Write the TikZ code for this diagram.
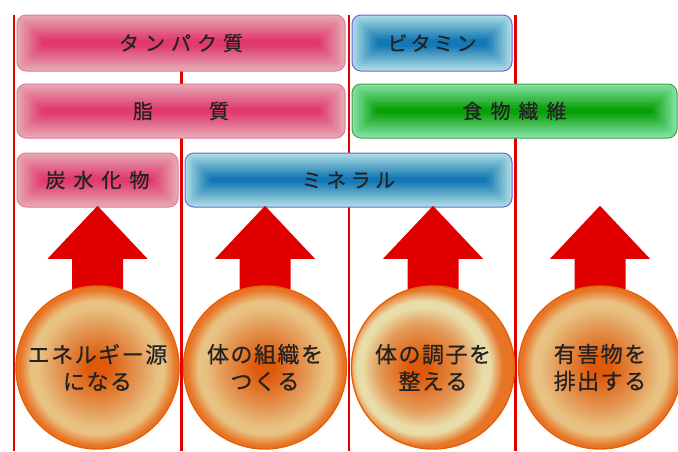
\documentclass[tikz,border=0pt]{standalone}
\usepackage{fontspec}
\newfontfamily\jp{Noto Sans CJK JP}
\newfontfamily\jpb[FakeBold=0.6]{Noto Sans CJK JP}
\usetikzlibrary{calc}
\definecolor{linered}{HTML}{E00000}
\definecolor{pinkL}{HTML}{E6A8B2}
\definecolor{pinkD}{HTML}{E03A6E}
\definecolor{pinkB}{HTML}{E47A98}
\definecolor{blueL}{HTML}{AADCE2}
\definecolor{blueD}{HTML}{1478B4}
\definecolor{blueB}{HTML}{6A64E0}
\definecolor{greenL}{HTML}{84E2A4}
\definecolor{greenD}{HTML}{0AA00A}
\definecolor{greenB}{HTML}{44A044}
\definecolor{orbA}{HTML}{DE5A0A}
\definecolor{orbB}{HTML}{E49A58}
\definecolor{orbC}{HTML}{E8C282}
\definecolor{orbH}{HTML}{E8DCA8}
\definecolor{orbD}{HTML}{E87426}
\definecolor{orbE}{HTML}{E46008}
\definecolor{txt}{HTML}{222222}
\pgfdeclareradialshading{orb}{\pgfpoint{0bp}{0bp}}{color(0bp)=(orbA); color(3bp)=(orbA); color(13bp)=(orbB); color(18.5bp)=(orbC); color(20.5bp)=(orbC); color(24bp)=(orbD); color(25bp)=(orbD); color(50bp)=(orbD)}
\pgfdeclareradialshading{orbhi}{\pgfpoint{-5bp}{0bp}}{color(0bp)=(orbA); color(3bp)=(orbA); color(13bp)=(orbB); color(18.5bp)=(orbH); color(20.5bp)=(orbH); color(24bp)=(orbD); color(25bp)=(orbD); color(50bp)=(orbD)}
\makeatletter
\def\spaced#1#2{\def\spaced@gap{\hspace{#1}}\spaced@first#2\@nil}
\def\spaced@first#1{#1\spaced@rest}
\def\spaced@rest#1{\ifx#1\@nil\else\spaced@gap#1\expandafter\spaced@rest\fi}
\makeatother
\newcommand\uparr[1]{\fill[linered] ($(#1.north)+(-25.5,3)$) -- ++(0,-30) -- ++(-24.5,0) -- ($(#1.north)+(0,-80)$) -- ($(#1.north)+(50,-27)$) -- ++(-24.5,0) -- ++(0,30) -- cycle;}
\begin{document}
\begin{tikzpicture}[x=1pt,y=-1pt,
  sepline/.style={draw=linered,line width=2.4pt},
  pbox/.style n args={3}{draw=#3, line width=1pt, rounded corners=9pt, fill=#1,
    inner sep=0pt, text=txt, font=\jpb\fontsize{20}{20}\selectfont,
    path picture={
      \foreach \i in {1,...,10}{
        \fill[#2!\i0!#1, rounded corners=4pt]
          ($(path picture bounding box.south west)+(\i*2.4pt,\i*2.4pt)$) rectangle
          ($(path picture bounding box.north east)-(\i*2.4pt,\i*2.4pt)$);
      }}},
  ghost/.style={circle, minimum size=163, inner sep=0pt},
  orbnode/.style={circle, minimum size=163, inner sep=0pt, shading=orb, draw=orbE,
    line width=1.4pt, align=center, text=txt, font=\jpb\fontsize{22}{27}\selectfont}
]
\useasboundingbox (0,0) rectangle (678,451);
% separator lines
\coordinate (l1t) at (14,15);   \coordinate (l1b) at (14,451);
\coordinate (l2t) at (181.5,15); \coordinate (l2b) at (181.5,451);
\coordinate (l3t) at (349,15);  \coordinate (l3b) at (349,451);
\coordinate (l4t) at (515.5,15); \coordinate (l4b) at (515.5,451);
\draw[sepline] (l1t) -- (l1b);
\draw[sepline] (l2t) -- (l2b);
\draw[sepline] (l3t) -- (l3b);
\draw[sepline] (l4t) -- (l4b);
% nutrient boxes
\node[pbox={pinkL}{pinkD}{pinkB}, minimum width=328, minimum height=56] (tanpaku) at (181,43) {\spaced{6pt}{タンパク質}};
\node[pbox={blueL}{blueD}{blueB}, minimum width=160, minimum height=56] (vitamin) at (432,43) {\spaced{3pt}{ビタミン}};
\node[pbox={pinkL}{pinkD}{pinkB}, minimum width=328, minimum height=54] (shishitsu) at (181,111) {脂\hspace{56pt}質};
\node[pbox={greenL}{greenD}{greenB}, minimum width=325, minimum height=54] (fiber) at (514.5,111) {\spaced{8pt}{食物繊維}};
\node[pbox={pinkL}{pinkD}{pinkB}, minimum width=161, minimum height=54] (carb) at (97.5,180) {\spaced{8pt}{炭水化物}};
\node[pbox={blueL}{blueD}{blueB}, minimum width=327, minimum height=54] (mineral) at (348.5,180) {\spaced{4.5pt}{ミネラル}};
% function circles
\coordinate (c1p) at (97.5,367.5);
\coordinate (c2p) at (265,367.5);
\coordinate (c3p) at (433,367.5);
\coordinate (c4p) at (600,367.5);
\node[ghost] (g1) at (c1p) {};
\node[ghost] (g2) at (c2p) {};
\node[ghost] (g3) at (c3p) {};
\node[ghost] (g4) at (c4p) {};
\uparr{g1}
\uparr{g2}
\uparr{g3}
\uparr{g4}
\node[orbnode] (c1) at (c1p) {\spaced{1.5pt}{エネルギー源}\\\spaced{1.5pt}{になる}};
\node[orbnode] (c2) at (c2p) {\spaced{1.5pt}{体の組織を}\\\spaced{1.5pt}{つくる}};
\node[orbnode, shading=orbhi] (c3) at (c3p) {\spaced{1.5pt}{体の調子を}\\\spaced{1.5pt}{整える}};
\node[orbnode] (c4) at (c4p) {\spaced{1.5pt}{有害物を}\\\spaced{1.5pt}{排出する}};
\end{tikzpicture}
\end{document}
